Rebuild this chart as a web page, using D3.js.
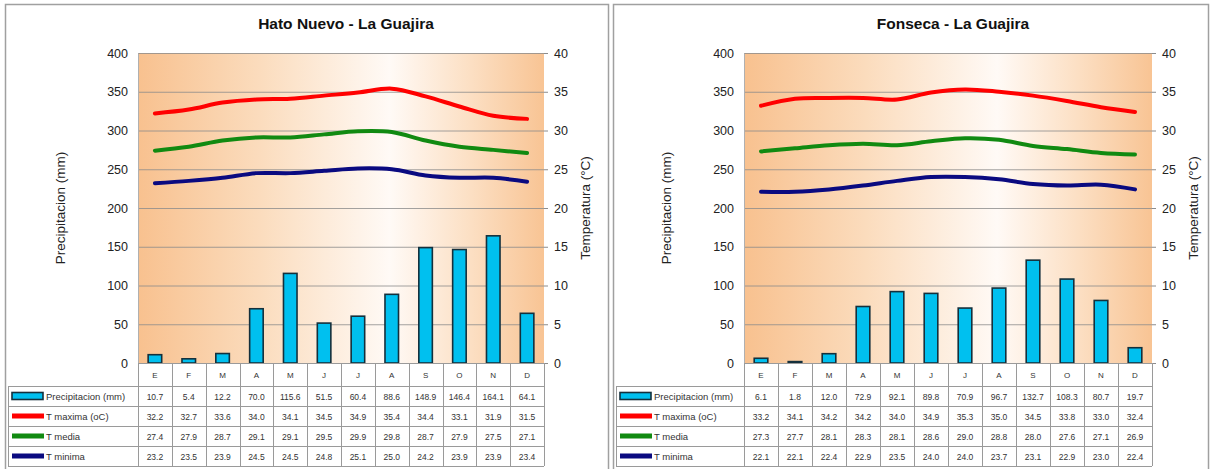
<!DOCTYPE html>
<html>
<head>
<meta charset="utf-8">
<script src="https://cdn.jsdelivr.net/npm/d3@7"></script>
<style>
  body { margin: 0; background: #fff; }
  svg { display: block; font-family: Arial, "Liberation Sans", sans-serif; }
</style>
</head>
<body>
<div id="chart"></div>
<script>
const months = ['E', 'F', 'M', 'A', 'M', 'J', 'J', 'A', 'S', 'O', 'N', 'D'];

const hatoPrecip = [10.7, 5.4, 12.2, 70.0, 115.6, 51.5, 60.4, 88.6, 148.9, 146.4, 164.1, 64.1];
const hatoTmax = [32.2, 32.7, 33.6, 34.0, 34.1, 34.5, 34.9, 35.4, 34.4, 33.1, 31.9, 31.5];
const hatoTmed = [27.4, 27.9, 28.7, 29.1, 29.1, 29.5, 29.9, 29.8, 28.7, 27.9, 27.5, 27.1];
const hatoTmin = [23.2, 23.5, 23.9, 24.5, 24.5, 24.8, 25.1, 25.0, 24.2, 23.9, 23.9, 23.4];

const fonsecaPrecip = [6.1, 1.8, 12.0, 72.9, 92.1, 89.8, 70.9, 96.7, 132.7, 108.3, 80.7, 19.7];
const fonsecaTmax = [33.2, 34.1, 34.2, 34.2, 34.0, 34.9, 35.3, 35.0, 34.5, 33.8, 33.0, 32.4];
const fonsecaTmed = [27.3, 27.7, 28.1, 28.3, 28.1, 28.6, 29.0, 28.8, 28.0, 27.6, 27.1, 26.9];
const fonsecaTmin = [22.1, 22.1, 22.4, 22.9, 23.5, 24.0, 24.0, 23.7, 23.1, 22.9, 23.0, 22.4];

const precipTicks = [0, 50, 100, 150, 200, 250, 300, 350, 400];
const tempTicks = [0, 5, 10, 15, 20, 25, 30, 35, 40];

const seriesNames = ['Precipitacion (mm)', 'T maxima (oC)', 'T media', 'T minima'];
const lineColors = ['#ff0000', '#118a11', '#0a0a80'];

const width = 1210;
const height = 469;

const svg = d3.create('svg')
  .attr('width', width)
  .attr('height', height);

const defs = svg.append('defs');
// horizontal fill: orange at the sides, almost white a bit right of centre
const grad = defs.append('linearGradient')
  .attr('id', 'bg')
  .attr('x1', 0).attr('x2', 1).attr('y1', 0).attr('y2', 0);
grad.append('stop').attr('offset', '0%').attr('stop-color', '#f8c18f');
grad.append('stop').attr('offset', '30%').attr('stop-color', '#fbdcbd');
grad.append('stop').attr('offset', '62%').attr('stop-color', '#fffaf6');
grad.append('stop').attr('offset', '82%').attr('stop-color', '#fcdfc3');
grad.append('stop').attr('offset', '100%').attr('stop-color', '#f8c494');

function drawPanel(opts) {
  const { box, plot, title, precip, tmax, tmed, tmin } = opts;
  const g = svg.append('g');

  // panel border
  g.append('rect')
    .attr('x', box.x + 0.5).attr('y', box.y + 0.5)
    .attr('width', box.w).attr('height', box.h)
    .attr('fill', '#fff')
    .attr('stroke', '#a0a0a0')
    .attr('stroke-width', 1.5);

  const x = d3.scaleBand().domain(d3.range(12)).range([plot.left, plot.right]);
  const yP = d3.scaleLinear().domain([0, 400]).range([plot.bottom, plot.top]);
  const yT = d3.scaleLinear().domain([0, 40]).range([plot.bottom, plot.top]);

  g.append('rect')
    .attr('x', plot.left).attr('y', plot.top)
    .attr('width', plot.right - plot.left)
    .attr('height', plot.bottom - plot.top)
    .attr('fill', 'url(#bg)');

  // grid
  g.append('g')
    .selectAll('line')
    .data(precipTicks.slice(1))
    .join('line')
    .attr('x1', plot.left).attr('x2', plot.right)
    .attr('y1', (d) => yP(d) + 0.5).attr('y2', (d) => yP(d) + 0.5)
    .attr('stroke', '#8c8c8c')
    .attr('stroke-width', 0.8);

  // left axis
  const axL = g.append('g')
    .attr('transform', `translate(${plot.left},0)`)
    .call(d3.axisLeft(yP).tickValues(precipTicks).tickSize(0).tickPadding(10));
  axL.select('.domain').attr('stroke', '#b0b0b0');
  axL.selectAll('text').attr('font-size', 12.5).attr('fill', '#222')
    .attr('font-family', 'Arial, "Liberation Sans", sans-serif');

  const axR = g.append('g')
    .attr('transform', `translate(${plot.right},0)`)
    .call(d3.axisRight(yT).tickValues(tempTicks).tickSize(4).tickPadding(6));
  axR.select('.domain').remove();
  axR.selectAll('line').attr('stroke', '#8c8c8c');
  axR.selectAll('text').attr('font-size', 12.5).attr('fill', '#222')
    .attr('font-family', 'Arial, "Liberation Sans", sans-serif');

  // bars
  const bw = x.bandwidth() * 0.4;
  g.append('g')
    .selectAll('rect')
    .data(precip)
    .join('rect')
    .attr('x', (d, i) => x(i) + (x.bandwidth() - bw) / 2)
    .attr('y', (d) => yP(d))
    .attr('width', bw)
    .attr('height', (d) => yP(0) - yP(d))
    .attr('fill', '#00c0ef')
    .attr('stroke', '#14303c')
    .attr('stroke-width', 1.6);

  // lines
  const line = d3.line()
    .x((d, i) => x(i) + x.bandwidth() / 2)
    .y((d) => yT(d))
    .curve(d3.curveCatmullRom.alpha(0.5));
  [tmax, tmed, tmin].forEach((s, k) => {
    g.append('path')
      .attr('d', line(s))
      .attr('fill', 'none')
      .attr('stroke', lineColors[k])
      .attr('stroke-width', 4)
      .attr('stroke-linecap', 'round');
  });

  // title
  g.append('text')
    .attr('x', (plot.left + plot.right) / 2 + 5)
    .attr('y', 29)
    .attr('text-anchor', 'middle')
    .attr('font-size', 15.5)
    .attr('font-weight', 'bold')
    .attr('fill', '#111')
    .text(title);

  // axis titles
  g.append('text')
    .attr('transform', `translate(${plot.left - 73},${(plot.top + plot.bottom) / 2}) rotate(-90)`)
    .attr('text-anchor', 'middle')
    .attr('font-size', 13.5)
    .attr('fill', '#222')
    .text('Precipitacion (mm)');
  g.append('text')
    .attr('transform', `translate(${plot.right + 46},${(plot.top + plot.bottom) / 2}) rotate(-90)`)
    .attr('text-anchor', 'middle')
    .attr('font-size', 13.5)
    .attr('fill', '#222')
    .text('Temperatura (°C)');

  // data table
  const tbl = g.append('g');
  const headTop = plot.bottom;
  const headH = 23;
  const rowH = 20;
  const tLeft = box.x + 3;
  const tBottom = headTop + headH + rowH * 4;
  const lineCol = '#9a9a9a';

  tbl.append('line')
    .attr('x1', plot.left).attr('x2', plot.right)
    .attr('y1', headTop + 0.5).attr('y2', headTop + 0.5)
    .attr('stroke', lineCol);
  d3.range(5).forEach((r) => {
    const yy = headTop + headH + r * rowH + 0.5;
    tbl.append('line')
      .attr('x1', tLeft).attr('x2', plot.right)
      .attr('y1', yy).attr('y2', yy)
      .attr('stroke', lineCol);
  });
  d3.range(13).forEach((i) => {
    const xx = Math.round(i < 12 ? x(i) : plot.right) + 0.5;
    tbl.append('line')
      .attr('x1', xx).attr('x2', xx)
      .attr('y1', headTop).attr('y2', tBottom)
      .attr('stroke', lineCol);
  });
  tbl.append('line')
    .attr('x1', tLeft + 0.5).attr('x2', tLeft + 0.5)
    .attr('y1', headTop + headH).attr('y2', tBottom)
    .attr('stroke', lineCol);

  tbl.selectAll('text.m')
    .data(months)
    .join('text')
    .attr('class', 'm')
    .attr('x', (d, i) => x(i) + x.bandwidth() / 2)
    .attr('y', headTop + 15)
    .attr('text-anchor', 'middle')
    .attr('font-size', 8)
    .attr('fill', '#333')
    .text((d) => d);

  const rows = [precip, tmax, tmed, tmin];
  rows.forEach((vals, r) => {
    const cy = headTop + headH + r * rowH + rowH / 2;
    if (r === 0) {
      tbl.append('rect')
        .attr('x', tLeft + 4).attr('y', cy - 3.5)
        .attr('width', 31).attr('height', 7)
        .attr('fill', '#00c0ef')
        .attr('stroke', '#14303c')
        .attr('stroke-width', 1.6);
    } else {
      tbl.append('rect')
        .attr('x', tLeft + 4).attr('y', cy - 2.5)
        .attr('width', 32).attr('height', 5)
        .attr('fill', lineColors[r - 1]);
    }
    tbl.append('text')
      .attr('x', tLeft + 38)
      .attr('y', cy + 3.5)
      .attr('font-size', 9.5)
      .attr('fill', '#333')
      .text(seriesNames[r]);
    tbl.selectAll(`text.v${r}`)
      .data(vals)
      .join('text')
      .attr('class', `v${r}`)
      .attr('x', (d, i) => x(i) + x.bandwidth() / 2)
      .attr('y', cy + 3.5)
      .attr('text-anchor', 'middle')
      .attr('font-size', 8.5)
      .attr('fill', '#333')
      .text((d) => d.toFixed(1));
  });
}

drawPanel({
  box: { x: 5, y: 4, w: 603, h: 480 },
  plot: { left: 138, right: 544, top: 53, bottom: 363 },
  title: 'Hato Nuevo - La Guajira',
  precip: hatoPrecip, tmax: hatoTmax, tmed: hatoTmed, tmin: hatoTmin
});

drawPanel({
  box: { x: 613, y: 4, w: 595, h: 480 },
  plot: { left: 744, right: 1152, top: 53, bottom: 363 },
  title: 'Fonseca - La Guajira',
  precip: fonsecaPrecip, tmax: fonsecaTmax, tmed: fonsecaTmed, tmin: fonsecaTmin
});

document.querySelector('#chart').appendChild(svg.node());
</script>
</body>
</html>
